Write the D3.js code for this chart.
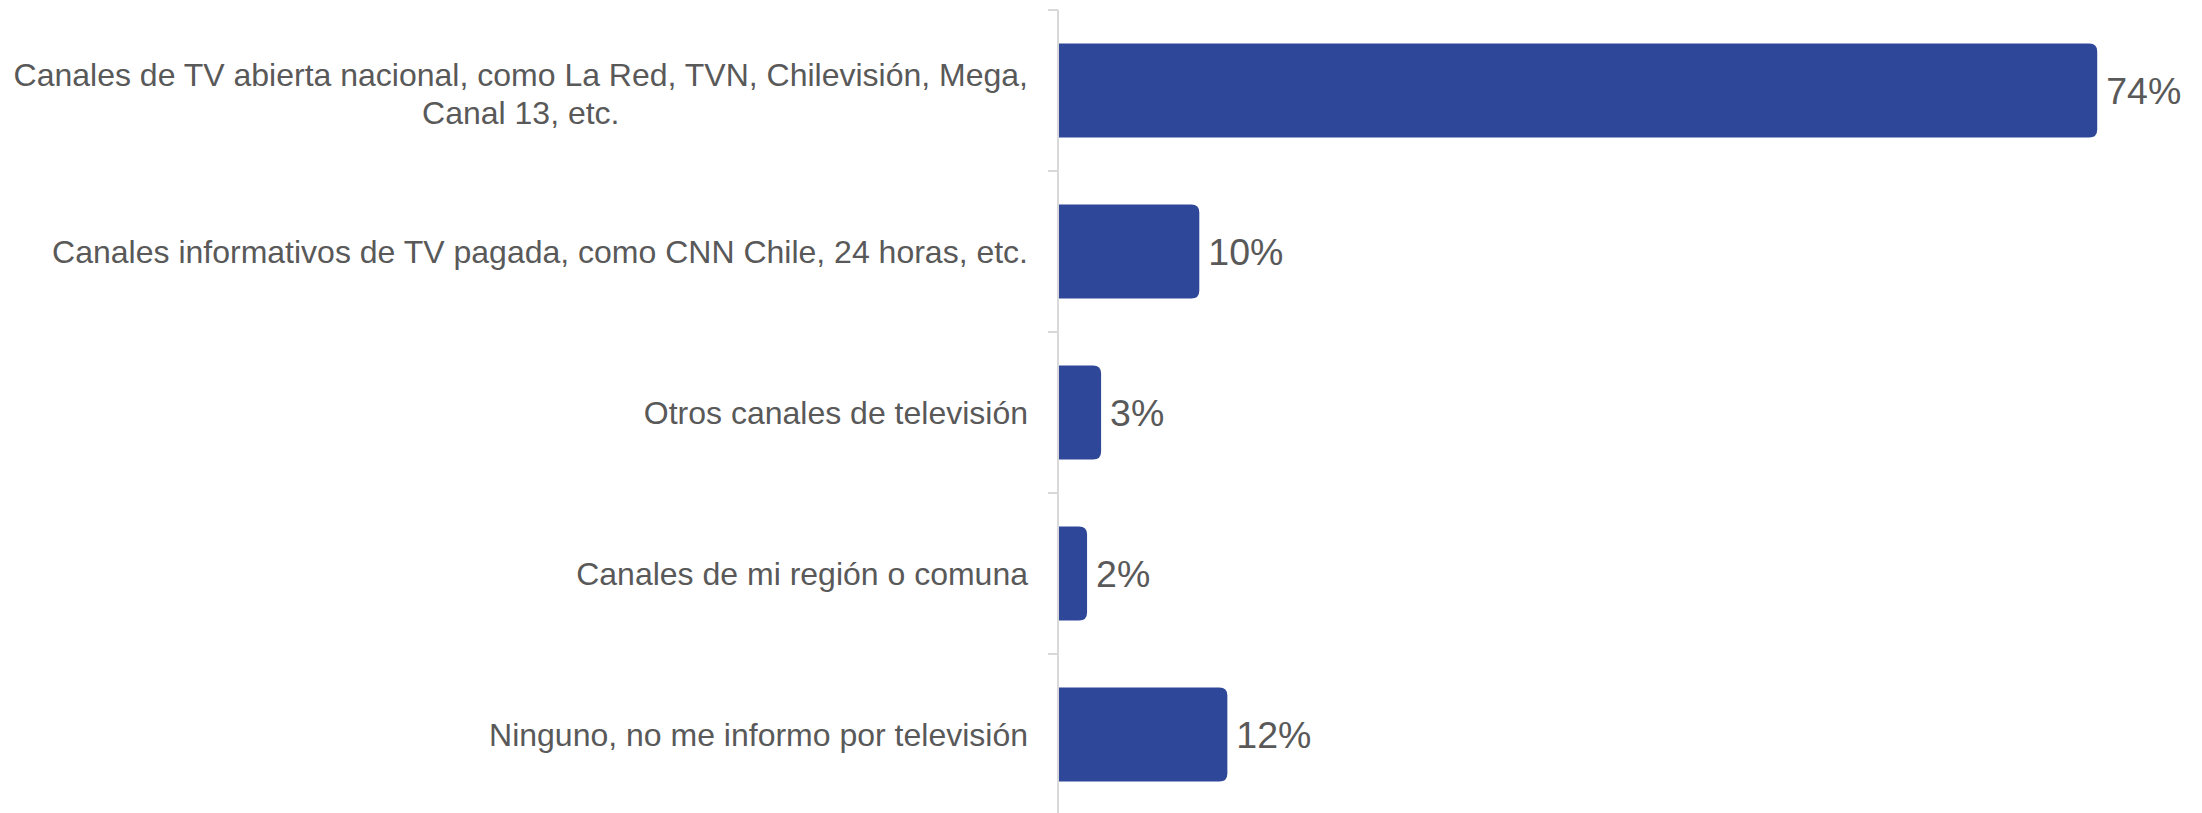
<!DOCTYPE html>
<html>
<head>
<meta charset="utf-8">
<script src="https://cdn.jsdelivr.net/npm/d3@7"></script>
<style>
  html, body { margin: 0; padding: 0; background: #ffffff; }
  svg { display: block; }
  text { font-family: "Liberation Sans", Arial, sans-serif; fill: #595959; }
</style>
</head>
<body>
<svg id="chart" width="2202" height="813"></svg>
<script>
// Survey categories (each entry is a list of text lines) and their shares in percent
const categories = [
  ["Canales de TV abierta nacional, como La Red, TVN, Chilevisión, Mega,", "Canal 13, etc."],
  ["Canales informativos de TV pagada, como CNN Chile, 24 horas, etc."],
  ["Otros canales de televisión"],
  ["Canales de mi región o comuna"],
  ["Ninguno, no me informo por televisión"]
];
const values = [74, 10, 3, 2, 12];
const valueLabels = ["74%", "10%", "3%", "2%", "12%"];

const svg = d3.select("#chart");
const axisX = 1058;
const barColor = "#2E4799";
const axisColor = "#D9D9D9";

const keys = categories.map((c, i) => i);

const y = d3.scaleBand()
  .domain(keys)
  .range([10, 815])
  .paddingInner(0.416)
  .paddingOuter(0.208);

const x = d3.scaleLinear()
  .domain([0, 80])
  .range([axisX + 1, axisX + 1 + 1122.4]);

// Category axis: vertical rule with ticks at band boundaries
const boundaries = keys.map(k => y(k) - y.step() * y.paddingInner() / 2);
boundaries.push(y.range()[1]);

svg.append("line")
  .attr("x1", axisX).attr("x2", axisX)
  .attr("y1", y.range()[0]).attr("y2", y.range()[1])
  .attr("stroke", axisColor).attr("stroke-width", 2);

svg.selectAll("line.tick")
  .data(boundaries)
  .join("line")
  .attr("class", "tick")
  .attr("x1", axisX - 10).attr("x2", axisX)
  .attr("y1", d => d).attr("y2", d => d)
  .attr("stroke", axisColor).attr("stroke-width", 2);

// Bars: square on the axis side, rounded at the value end
const r = 8;
function barPath(x0, x1, y0, h) {
  const rr = Math.min(r, (x1 - x0) / 2, h / 2);
  return `M${x0},${y0}H${x1 - rr}Q${x1},${y0} ${x1},${y0 + rr}V${y0 + h - rr}Q${x1},${y0 + h} ${x1 - rr},${y0 + h}H${x0}Z`;
}

svg.selectAll("path.bar")
  .data(values)
  .join("path")
  .attr("class", "bar")
  .attr("fill", barColor)
  .attr("d", (d, i) => barPath(x(0), x(d), y(i), y.bandwidth()));

// Value labels to the right of each bar
svg.selectAll("text.value")
  .data(values)
  .join("text")
  .attr("class", "value")
  .attr("x", d => x(d) + 9)
  .attr("y", (d, i) => y(i) + y.bandwidth() / 2)
  .attr("dy", "0.36em")
  .attr("font-size", 37.5)
  .text((d, i) => valueLabels[i]);

// Category labels, right-aligned to the axis; multi-line labels are centred within their block
const labelRight = 1028;
const lineHeight = 38;
const catFont = 32;

categories.forEach((lines, i) => {
  const cy = y(i) + y.bandwidth() / 2;
  const g = svg.append("text")
    .attr("font-size", catFont);
  if (lines.length === 1) {
    g.attr("x", labelRight).attr("y", cy).attr("dy", "0.35em")
      .attr("text-anchor", "end").text(lines[0]);
  } else {
    // measure the widest line, then centre every line over it
    const probe = svg.append("text").attr("font-size", catFont).text(lines[0]);
    const w = probe.node().getComputedTextLength();
    probe.remove();
    const cx = labelRight - w / 2;
    const top = cy - (lines.length - 1) * lineHeight / 2 + 3;
    g.attr("text-anchor", "middle");
    lines.forEach((t, j) => {
      g.append("tspan")
        .attr("x", cx)
        .attr("y", top + j * lineHeight)
        .attr("dy", "0.35em")
        .text(t);
    });
  }
});
</script>
</body>
</html>
